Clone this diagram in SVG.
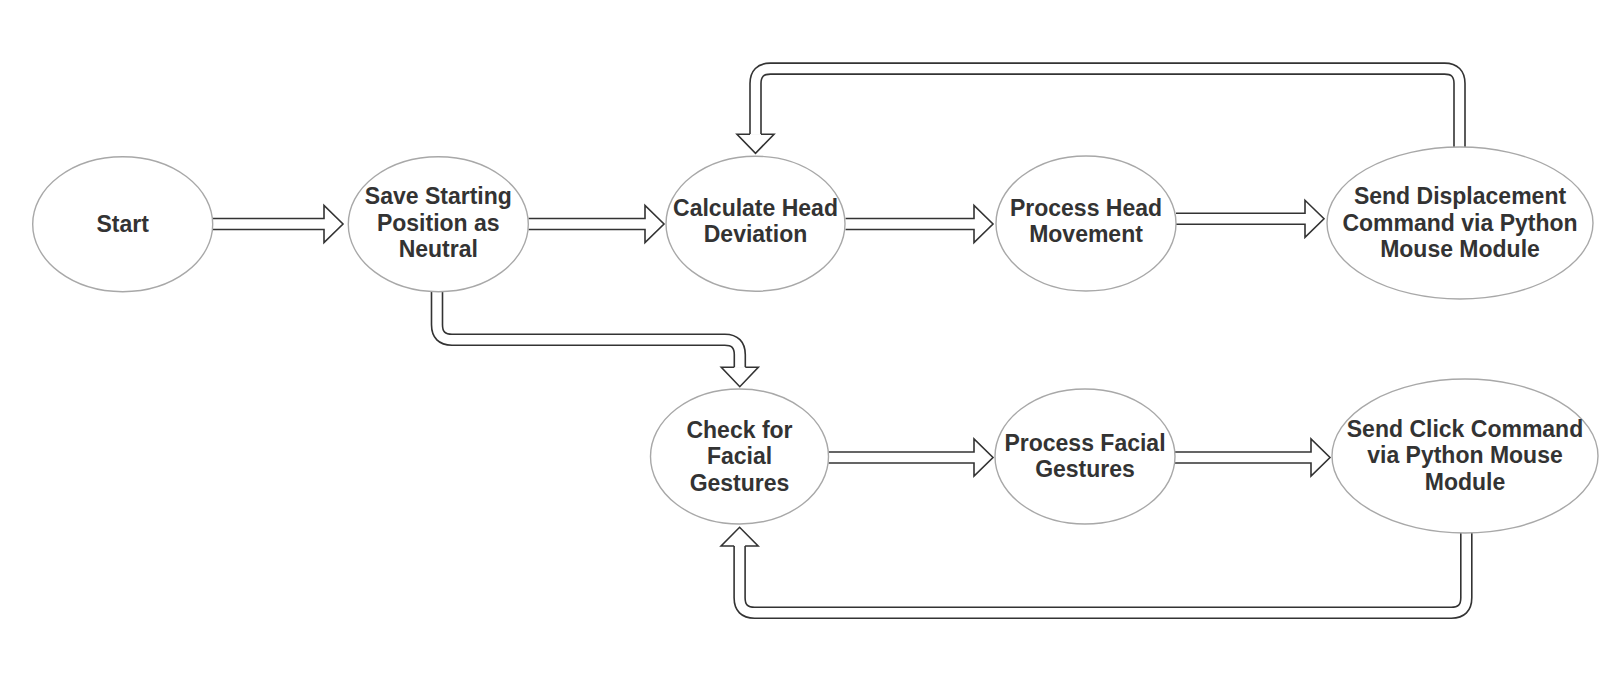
<svg xmlns="http://www.w3.org/2000/svg" width="1622" height="686" viewBox="0 0 1622 686">
<style>
.node{fill:#ffffff;stroke:#a8a8a8;stroke-width:1.4}
.lbl{font-family:"Liberation Sans",Arial,Helvetica,sans-serif;font-size:23px;font-weight:bold;fill:#333333;text-anchor:middle}
.arw{fill:#ffffff;stroke:#333333;stroke-width:1.6;stroke-linejoin:miter}
.band{fill:none;stroke:#333333;stroke-width:12.6}
.core{fill:none;stroke:#ffffff;stroke-width:9.4}
.head{fill:#ffffff;stroke:#333333;stroke-width:1.6;stroke-linejoin:miter}
</style>
<rect width="1622" height="686" fill="#ffffff"/>
<g id="connectors">
  <!-- Start -> Save -->
  <path class="arw" d="M213,218.5 H324 V205.5 L343,224 L324,242.5 V229.5 H213"/>
  <!-- Save -> Calculate -->
  <path class="arw" d="M528.5,218.5 H645 V205.5 L664,224 L645,242.5 V229.5 H528.5"/>
  <!-- Calculate -> Process Head -->
  <path class="arw" d="M845.5,218.5 H974 V205.5 L993,224 L974,242.5 V229.5 H845.5"/>
  <!-- Process Head -> Send Displacement -->
  <path class="arw" d="M1176,213.3 H1305 V200.3 L1324,218.8 L1305,237.3 V224.3 H1176"/>
  <!-- Check -> Process Facial -->
  <path class="arw" d="M828.5,452 H974 V439 L993,457.5 L974,476 V463 H828.5"/>
  <!-- Process Facial -> Send Click -->
  <path class="arw" d="M1175,452 H1311 V439 L1330,457.5 L1311,476 V463 H1175"/>
  <!-- Send Displacement loop back to Calculate -->
  <path class="band" d="M1459.5,147 V83.6 Q1459.5,68.6 1444.5,68.6 H770.5 Q755.5,68.6 755.5,83.6 V134.2"/>
  <path class="core" d="M1459.5,147.6 V83.6 Q1459.5,68.6 1444.5,68.6 H770.5 Q755.5,68.6 755.5,83.6 V134.4"/>
  <path class="head" d="M750,134.2 H737 L755.5,153.3 L774,134.2 H761"/>
  <!-- Save -> Check for Facial Gestures -->
  <path class="band" d="M437,291.7 V324.8 Q437,339.8 452,339.8 H724.8 Q739.8,339.8 739.8,354.8 V367.3"/>
  <path class="core" d="M437,291 V324.8 Q437,339.8 452,339.8 H724.8 Q739.8,339.8 739.8,354.8 V367.5"/>
  <path class="head" d="M734.3,367.3 H721.3 L739.8,386.7 L758.3,367.3 H745.3"/>
  <!-- Send Click loop back to Check -->
  <path class="band" d="M1466.3,532.7 V597.8 Q1466.3,612.8 1451.3,612.8 H754.6 Q739.6,612.8 739.6,597.8 V546"/>
  <path class="core" d="M1466.3,532 V597.8 Q1466.3,612.8 1451.3,612.8 H754.6 Q739.6,612.8 739.6,597.8 V545.8"/>
  <path class="head" d="M734.1,546 H721.1 L739.6,527.3 L758.1,546 H745.1"/>
</g>
<g id="start">
  <ellipse class="node" cx="122.7" cy="224.2" rx="90" ry="67.5"/>
  <text class="lbl" x="122.7" y="232">Start</text>
</g>
<g id="save-neutral">
  <ellipse class="node" cx="438.3" cy="224.2" rx="90" ry="67.5"/>
  <text class="lbl" x="438.3" y="204">Save Starting</text>
  <text class="lbl" x="438.3" y="230.5">Position as</text>
  <text class="lbl" x="438.3" y="257">Neutral</text>
</g>
<g id="calc-deviation">
  <ellipse class="node" cx="755.5" cy="223.7" rx="89.5" ry="67.5"/>
  <text class="lbl" x="755.5" y="216">Calculate Head</text>
  <text class="lbl" x="755.5" y="242">Deviation</text>
</g>
<g id="process-head">
  <ellipse class="node" cx="1086" cy="223.5" rx="90" ry="67.5"/>
  <text class="lbl" x="1086" y="216">Process Head</text>
  <text class="lbl" x="1086" y="242">Movement</text>
</g>
<g id="send-displacement">
  <ellipse class="node" cx="1460" cy="223" rx="133" ry="76"/>
  <text class="lbl" x="1460" y="204">Send Displacement</text>
  <text class="lbl" x="1460" y="231">Command via Python</text>
  <text class="lbl" x="1460" y="257">Mouse Module</text>
</g>
<g id="check-gestures">
  <ellipse class="node" cx="739.5" cy="456.5" rx="89" ry="67.5"/>
  <text class="lbl" x="739.5" y="437.5">Check for</text>
  <text class="lbl" x="739.5" y="464">Facial</text>
  <text class="lbl" x="739.5" y="490.5">Gestures</text>
</g>
<g id="process-gestures">
  <ellipse class="node" cx="1085" cy="456.5" rx="90" ry="67.5"/>
  <text class="lbl" x="1085" y="450.5">Process Facial</text>
  <text class="lbl" x="1085" y="476.5">Gestures</text>
</g>
<g id="send-click">
  <ellipse class="node" cx="1465" cy="456" rx="133" ry="77"/>
  <text class="lbl" x="1465" y="436.7">Send Click Command</text>
  <text class="lbl" x="1465" y="463.3">via Python Mouse</text>
  <text class="lbl" x="1465" y="490">Module</text>
</g>
</svg>
